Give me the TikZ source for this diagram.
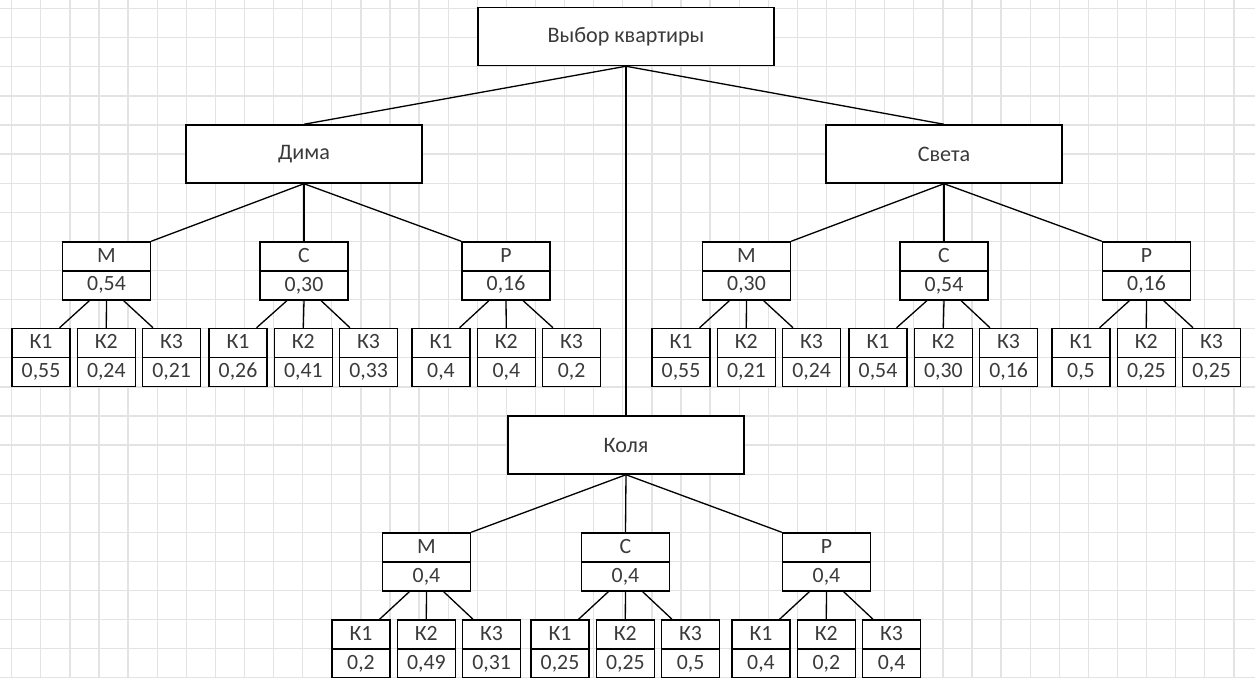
\documentclass[tikz,border=0pt]{standalone}
\usepackage{fontspec}
\setmainfont{Carlito}
\usetikzlibrary{positioning}
\definecolor{txt}{HTML}{3A3A3A}

\begin{document}
\begin{tikzpicture}
[x=0.02cm,y=-0.02cm,node distance=1.306cm,
gridline/.style={draw=gray!22,line width=0.7pt},
bigbox/.style={draw,fill=white,line width=0.85pt,minimum width=4.72cm,minimum height=1.16cm,inner sep=0pt,text=txt,font=\fontsize{12.6}{15}\selectfont},
midbox/.style={draw,fill=white,line width=0.85pt,minimum width=1.76cm,minimum height=1.16cm,inner sep=0pt,align=center,text=txt,
  font=\fontsize{12.4}{16.4}\selectfont,
  path picture={\draw[line width=0.85pt] (path picture bounding box.west) -- (path picture bounding box.east);}},
leaf/.style={midbox,minimum width=1.16cm},
link/.style={line width=0.75pt}]
\useasboundingbox (0,0) rectangle (1255,678);
%% grid paper
\foreach \gx in {0,...,42} \draw[gridline] ({11.7+29.1*\gx},0) -- ({11.7+29.1*\gx},678);
\foreach \gy in {0,...,23} \draw[gridline] (0,{8.6+29.1*\gy}) -- (1255,{8.6+29.1*\gy});
%%
\node (top) [bigbox,minimum width=5.92cm] at (626,36.5) {Выбор квартиры};
\node (dima) [bigbox] at (304,154) {Дима};
\node (sveta) [bigbox] at (944,154) {Света};
\node (kolya) [bigbox] at (626,445) {Коля};
\draw[link] (top.south) -- (dima.north);
\draw[link] (top.south) -- (sveta.north);
\draw[link] (top.south) -- (kolya.north);
%% Дима
\node (dm) [midbox] at (106.5,271) {М\\0,54};
\node (dc) [midbox] at (304,271) {С\\0,30};
\node (dp) [midbox] at (506,271) {Р\\0,16};
\draw[link] (dima.south) -- (dm.north east);
\draw[link] (dima.south) -- (dc.north);
\draw[link] (dima.south) -- (dp.north west);
\node (dm1) [leaf] at (41,357.5) {К1\\0,55};
\node (dm2) [leaf,right of=dm1] {К2\\0,24};
\node (dm3) [leaf,right of=dm2] {К3\\0,21};
\node (dc1) [leaf] at (238,357.5) {К1\\0,26};
\node (dc2) [leaf,right of=dc1] {К2\\0,41};
\node (dc3) [leaf,right of=dc2] {К3\\0,33};
\node (dp1) [leaf] at (441,357.5) {К1\\0,4};
\node (dp2) [leaf,right of=dp1] {К2\\0,4};
\node (dp3) [leaf,right of=dp2] {К3\\0,2};
\draw[link] (dm.240) -- (dm1.58);
\draw[link] (dm.south) -- (dm2.north);
\draw[link] (dm.300) -- (dm3.122);
\draw[link] (dc.240) -- (dc1.58);
\draw[link] (dc.south) -- (dc2.north);
\draw[link] (dc.300) -- (dc3.122);
\draw[link] (dp.240) -- (dp1.58);
\draw[link] (dp.south) -- (dp2.north);
\draw[link] (dp.300) -- (dp3.122);
%% Света
\node (sm) [midbox] at (746.5,271) {М\\0,30};
\node (sc) [midbox] at (944,271) {С\\0,54};
\node (sp) [midbox] at (1146.5,271) {Р\\0,16};
\draw[link] (sveta.south) -- (sm.north east);
\draw[link] (sveta.south) -- (sc.north);
\draw[link] (sveta.south) -- (sp.north west);
\node (sm1) [leaf] at (681,357.5) {К1\\0,55};
\node (sm2) [leaf,right of=sm1] {К2\\0,21};
\node (sm3) [leaf,right of=sm2] {К3\\0,24};
\node (sc1) [leaf] at (878,357.5) {К1\\0,54};
\node (sc2) [leaf,right of=sc1] {К2\\0,30};
\node (sc3) [leaf,right of=sc2] {К3\\0,16};
\node (sp1) [leaf] at (1081,357.5) {К1\\0,5};
\node (sp2) [leaf,right of=sp1] {К2\\0,25};
\node (sp3) [leaf,right of=sp2] {К3\\0,25};
\draw[link] (sm.240) -- (sm1.58);
\draw[link] (sm.south) -- (sm2.north);
\draw[link] (sm.300) -- (sm3.122);
\draw[link] (sc.240) -- (sc1.58);
\draw[link] (sc.south) -- (sc2.north);
\draw[link] (sc.300) -- (sc3.122);
\draw[link] (sp.240) -- (sp1.58);
\draw[link] (sp.south) -- (sp2.north);
\draw[link] (sp.300) -- (sp3.122);
%% Коля
\node (km) [midbox] at (426.5,562) {М\\0,4};
\node (kc) [midbox] at (625.5,562) {С\\0,4};
\node (kp) [midbox] at (826.5,562) {Р\\0,4};
\draw[link] (kolya.south) -- (km.north east);
\draw[link] (kolya.south) -- (kc.north);
\draw[link] (kolya.south) -- (kp.north west);
\node (km1) [leaf] at (361,649) {К1\\0,2};
\node (km2) [leaf,right of=km1] {К2\\0,49};
\node (km3) [leaf,right of=km2] {К3\\0,31};
\node (kc1) [leaf] at (560,649) {К1\\0,25};
\node (kc2) [leaf,right of=kc1] {К2\\0,25};
\node (kc3) [leaf,right of=kc2] {К3\\0,5};
\node (kp1) [leaf] at (761,649) {К1\\0,4};
\node (kp2) [leaf,right of=kp1] {К2\\0,2};
\node (kp3) [leaf,right of=kp2] {К3\\0,4};
\draw[link] (km.240) -- (km1.58);
\draw[link] (km.south) -- (km2.north);
\draw[link] (km.300) -- (km3.122);
\draw[link] (kc.240) -- (kc1.58);
\draw[link] (kc.south) -- (kc2.north);
\draw[link] (kc.300) -- (kc3.122);
\draw[link] (kp.240) -- (kp1.58);
\draw[link] (kp.south) -- (kp2.north);
\draw[link] (kp.300) -- (kp3.122);
\end{tikzpicture}
\end{document}
